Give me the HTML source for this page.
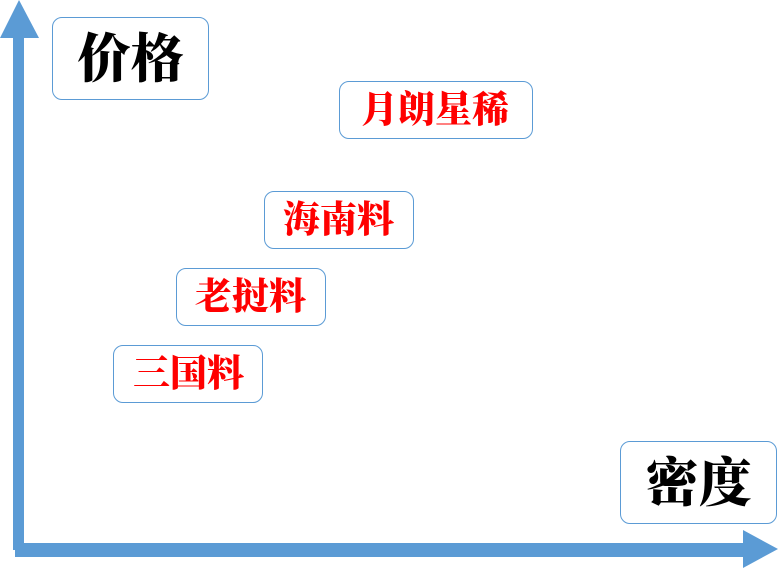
<!DOCTYPE html>
<html><head><meta charset="utf-8"><style>
body{margin:0;width:778px;height:568px;background:#fff;position:relative;overflow:hidden}
.b{position:absolute;box-sizing:border-box;border:1.3px solid #5b9bd5;border-radius:10px;background:#fff;
font-family:"Liberation Serif","Noto Serif CJK SC",serif;font-weight:900;display:flex;align-items:center;white-space:nowrap}
.r{color:#ff0000;font-size:37px;padding-bottom:8px}
.k{color:#000;font-size:53px;justify-content:center;padding-bottom:8px}
</style></head><body>
<svg width="778" height="568" style="position:absolute;left:0;top:0">
<polygon points="0,38 19,0 39,38" fill="#5b9bd5"/>
<rect x="13" y="36" width="11" height="514" fill="#5b9bd5"/>
<rect x="15" y="543" width="730" height="14" fill="#5b9bd5"/>
<polygon points="743,530 778,549 743,568" fill="#5b9bd5"/>
</svg>
<div class="b k" style="left:52px;top:17px;width:157px;height:83px">价格</div>
<div class="b r" style="left:339px;top:81px;width:194px;height:58px;padding-left:21px">月朗星稀</div>
<div class="b r" style="left:264px;top:191px;width:150px;height:58px;padding-left:18px">海南料</div>
<div class="b r" style="left:176px;top:268px;width:150px;height:58px;padding-left:18px">老挝料</div>
<div class="b r" style="left:113px;top:345px;width:150px;height:58px;padding-left:19px">三国料</div>
<div class="b k" style="left:620px;top:441px;width:157px;height:83px">密度</div>
</body></html>
